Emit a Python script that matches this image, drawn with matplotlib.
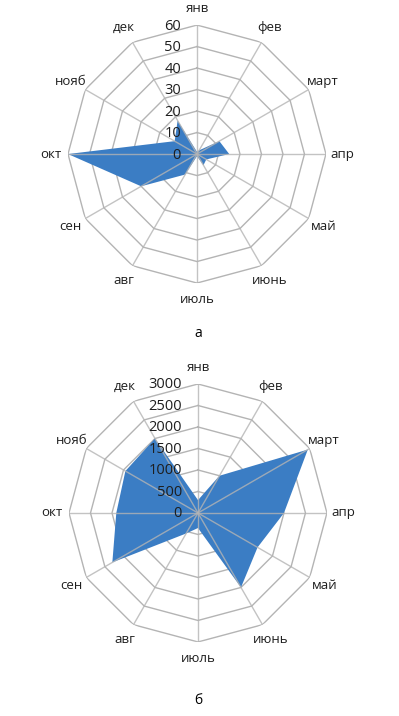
import numpy as np
import matplotlib
matplotlib.use("Agg")
import matplotlib.pyplot as plt
from matplotlib.transforms import offset_copy

plt.rcParams['font.family'] = ['Open Sans', 'DejaVu Sans']

months = ['янв', 'фев', 'март', 'апр', 'май', 'июнь',
          'июль', 'авг', 'сен', 'окт', 'нояб', 'дек']

# chart a
values_a = [1, 2, 12, 15, 5, 6, 1, 11, 30, 60, 12, 18]
rings_a = [0, 10, 20, 30, 40, 50, 60]

# chart b
values_b = [300, 1000, 2950, 2000, 1600, 2000, 350, 550, 2300, 1900, 1950, 2000]
rings_b = [0, 500, 1000, 1500, 2000, 2500, 3000]

fill_color = '#3b7dc4'
grid_color = '#b4b4b4'
text_color = '#1e1e1e'

fig = plt.figure(figsize=(3.99, 7.16), dpi=100)

theta = np.linspace(0, 2 * np.pi, len(months), endpoint=False)
theta_closed = np.append(theta, theta[0])


def radar(rect, values, rings, caption, cap_y):
    ax = fig.add_axes(rect, projection='polar')
    ax.set_theta_zero_location('N')
    ax.set_theta_direction(-1)
    rmax = rings[-1]
    ax.set_ylim(0, rmax)
    ax.spines['polar'].set_visible(False)
    ax.set_facecolor('none')
    ax.set_axisbelow(False)

    # spokes (drawn over the fill)
    ax.set_xticks(theta)
    ax.set_xticklabels([])
    ax.xaxis.grid(True, color=grid_color, linewidth=1.0, alpha=0.8)
    ax.yaxis.grid(False)
    ax.set_yticks([])

    # polygon rings
    for r in rings[1:]:
        ax.plot(theta_closed, [r] * len(theta_closed), color=grid_color,
                linewidth=1.0, zorder=1)

    vals = np.append(values, values[0])
    ax.fill(theta_closed, vals, color=fill_color, zorder=2, linewidth=0)

    # month labels
    for t, m in zip(theta, months):
        ax.text(t, rmax * 1.13, m, ha='center', va='center', fontsize=9.5,
                color=text_color, clip_on=False)

    # value labels left of the vertical axis
    tr = offset_copy(ax.transData, fig=fig, x=-16, y=-1, units='dots')
    for r in rings:
        ax.text(0, r, str(r), transform=tr, ha='right', va='center',
                fontsize=10.5, color=text_color, zorder=3)

    fig.text(0.497, cap_y, caption, ha='center', va='center', fontsize=10,
             color='black')
    return ax


radar([0.1704, 0.6047, 0.6466, 0.3603], values_a, rings_a, 'а', 1 - 334 / 716)
radar([0.1729, 0.1034, 0.6466, 0.3603], values_b, rings_b, 'б', 1 - 700 / 716)

fig.savefig('out.png', dpi=100)
